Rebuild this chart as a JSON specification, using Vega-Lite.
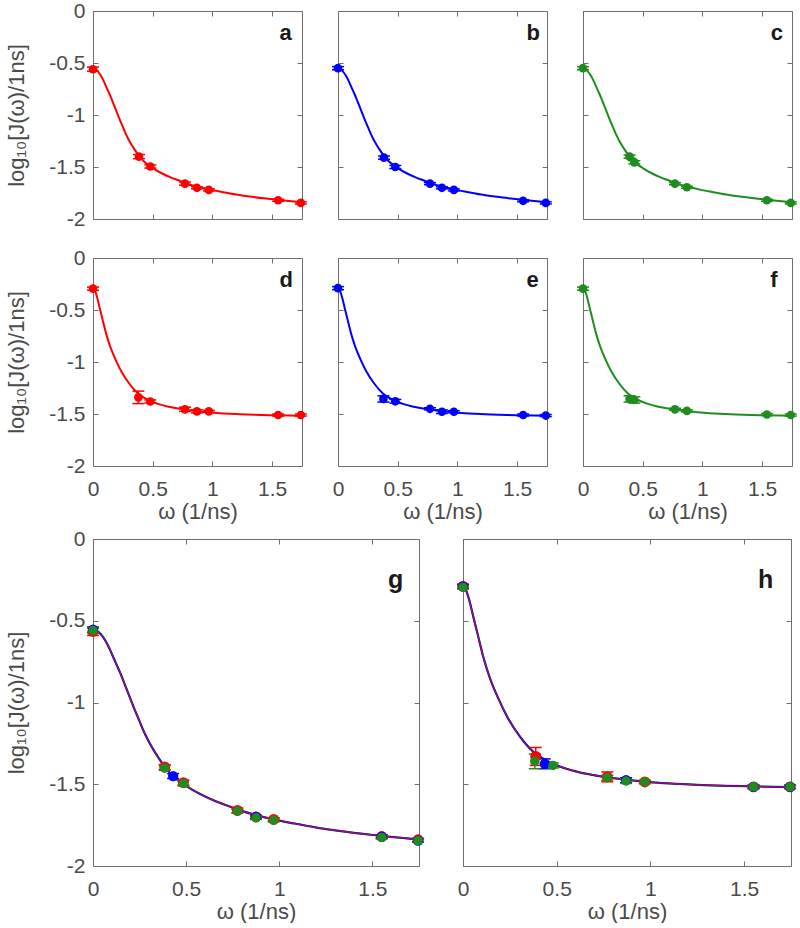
{
  "$schema": "https://vega.github.io/schema/vega-lite/v6.json",
  "padding": {"left": 5, "top": -1, "right": 0, "bottom": 0},
  "spacing": 4,
  "datasets": {
    "fit": [
      {"f":1,"w":0,"v":-0.556},{"f":1,"w":0.02,"v":-0.562},{"f":1,"w":0.04,"v":-0.58},{"f":1,"w":0.06,"v":-0.61},{"f":1,"w":0.08,"v":-0.65},{"f":1,"w":0.1,"v":-0.7},{"f":1,"w":0.127,"v":-0.77},{"f":1,"w":0.15,"v":-0.83},{"f":1,"w":0.172,"v":-0.894},{"f":1,"w":0.2,"v":-0.975},{"f":1,"w":0.217,"v":-1.025},{"f":1,"w":0.25,"v":-1.115},{"f":1,"w":0.27,"v":-1.17},{"f":1,"w":0.3,"v":-1.24},{"f":1,"w":0.325,"v":-1.29},{"f":1,"w":0.35,"v":-1.335},{"f":1,"w":0.4,"v":-1.415},{"f":1,"w":0.45,"v":-1.47},{"f":1,"w":0.5,"v":-1.51},{"f":1,"w":0.575,"v":-1.56},{"f":1,"w":0.65,"v":-1.6},{"f":1,"w":0.72,"v":-1.63},{"f":1,"w":0.79,"v":-1.66},{"f":1,"w":0.88,"v":-1.69},{"f":1,"w":0.97,"v":-1.715},{"f":1,"w":1.08,"v":-1.74},{"f":1,"w":1.2,"v":-1.765},{"f":1,"w":1.33,"v":-1.787},{"f":1,"w":1.47,"v":-1.806},{"f":1,"w":1.6,"v":-1.822},{"f":1,"w":1.75,"v":-1.838},
      {"f":2,"w":0,"v":-0.29},{"f":2,"w":0.015,"v":-0.31},{"f":2,"w":0.03,"v":-0.36},{"f":2,"w":0.055,"v":-0.475},{"f":2,"w":0.082,"v":-0.6},{"f":2,"w":0.108,"v":-0.72},{"f":2,"w":0.144,"v":-0.852},{"f":2,"w":0.188,"v":-0.974},{"f":2,"w":0.24,"v":-1.096},{"f":2,"w":0.303,"v":-1.207},{"f":2,"w":0.374,"v":-1.3},{"f":2,"w":0.43,"v":-1.345},{"f":2,"w":0.48,"v":-1.375},{"f":2,"w":0.55,"v":-1.405},{"f":2,"w":0.622,"v":-1.427},{"f":2,"w":0.7,"v":-1.445},{"f":2,"w":0.78,"v":-1.46},{"f":2,"w":0.9,"v":-1.476},{"f":2,"w":1.01,"v":-1.488},{"f":2,"w":1.15,"v":-1.498},{"f":2,"w":1.28,"v":-1.505},{"f":2,"w":1.41,"v":-1.51},{"f":2,"w":1.544,"v":-1.513},{"f":2,"w":1.75,"v":-1.518}
    ],
    "pts": [
      {"p":"a","s":"red","w":0,"v":-0.56,"lo":-0.58,"hi":-0.54},
      {"p":"a","s":"red","w":0.385,"v":-1.4,"lo":-1.42,"hi":-1.38},
      {"p":"a","s":"red","w":0.48,"v":-1.495,"lo":-1.51,"hi":-1.48},
      {"p":"a","s":"red","w":0.77,"v":-1.66,"lo":-1.675,"hi":-1.645},
      {"p":"a","s":"red","w":0.87,"v":-1.7,"lo":-1.71,"hi":-1.69},
      {"p":"a","s":"red","w":0.97,"v":-1.72,"lo":-1.73,"hi":-1.71},
      {"p":"a","s":"red","w":1.55,"v":-1.82,"lo":-1.83,"hi":-1.81},
      {"p":"a","s":"red","w":1.74,"v":-1.845,"lo":-1.855,"hi":-1.835},
      {"p":"b","s":"blue","w":0,"v":-0.55,"lo":-0.565,"hi":-0.535},
      {"p":"b","s":"blue","w":0.385,"v":-1.41,"lo":-1.425,"hi":-1.395},
      {"p":"b","s":"blue","w":0.48,"v":-1.5,"lo":-1.515,"hi":-1.485},
      {"p":"b","s":"blue","w":0.77,"v":-1.66,"lo":-1.67,"hi":-1.65},
      {"p":"b","s":"blue","w":0.87,"v":-1.7,"lo":-1.71,"hi":-1.69},
      {"p":"b","s":"blue","w":0.97,"v":-1.72,"lo":-1.73,"hi":-1.71},
      {"p":"b","s":"blue","w":1.55,"v":-1.825,"lo":-1.835,"hi":-1.815},
      {"p":"b","s":"blue","w":1.74,"v":-1.845,"lo":-1.855,"hi":-1.835},
      {"p":"c","s":"green","w":0,"v":-0.55,"lo":-0.565,"hi":-0.535},
      {"p":"c","s":"green","w":0.39,"v":-1.4,"lo":-1.415,"hi":-1.385},
      {"p":"c","s":"green","w":0.43,"v":-1.455,"lo":-1.47,"hi":-1.44},
      {"p":"c","s":"green","w":0.77,"v":-1.66,"lo":-1.67,"hi":-1.65},
      {"p":"c","s":"green","w":0.87,"v":-1.695,"lo":-1.705,"hi":-1.685},
      {"p":"c","s":"green","w":1.54,"v":-1.82,"lo":-1.83,"hi":-1.81},
      {"p":"c","s":"green","w":1.74,"v":-1.845,"lo":-1.855,"hi":-1.835},
      {"p":"d","s":"red","w":0,"v":-0.295,"lo":-0.31,"hi":-0.28},
      {"p":"d","s":"red","w":0.38,"v":-1.34,"lo":-1.4,"hi":-1.28},
      {"p":"d","s":"red","w":0.48,"v":-1.38,"lo":-1.395,"hi":-1.365},
      {"p":"d","s":"red","w":0.77,"v":-1.455,"lo":-1.475,"hi":-1.435},
      {"p":"d","s":"red","w":0.87,"v":-1.475,"lo":-1.49,"hi":-1.46},
      {"p":"d","s":"red","w":0.97,"v":-1.475,"lo":-1.485,"hi":-1.465},
      {"p":"d","s":"red","w":1.55,"v":-1.51,"lo":-1.52,"hi":-1.5},
      {"p":"d","s":"red","w":1.74,"v":-1.51,"lo":-1.52,"hi":-1.5},
      {"p":"e","s":"blue","w":0,"v":-0.29,"lo":-0.305,"hi":-0.275},
      {"p":"e","s":"blue","w":0.38,"v":-1.355,"lo":-1.385,"hi":-1.325},
      {"p":"e","s":"blue","w":0.48,"v":-1.378,"lo":-1.395,"hi":-1.36},
      {"p":"e","s":"blue","w":0.77,"v":-1.45,"lo":-1.46,"hi":-1.44},
      {"p":"e","s":"blue","w":0.87,"v":-1.478,"lo":-1.495,"hi":-1.46},
      {"p":"e","s":"blue","w":0.97,"v":-1.478,"lo":-1.488,"hi":-1.468},
      {"p":"e","s":"blue","w":1.55,"v":-1.51,"lo":-1.52,"hi":-1.5},
      {"p":"e","s":"blue","w":1.74,"v":-1.515,"lo":-1.525,"hi":-1.505},
      {"p":"f","s":"green","w":0,"v":-0.295,"lo":-0.31,"hi":-0.28},
      {"p":"f","s":"green","w":0.39,"v":-1.355,"lo":-1.385,"hi":-1.325},
      {"p":"f","s":"green","w":0.43,"v":-1.365,"lo":-1.395,"hi":-1.335},
      {"p":"f","s":"green","w":0.77,"v":-1.455,"lo":-1.465,"hi":-1.445},
      {"p":"f","s":"green","w":0.87,"v":-1.47,"lo":-1.48,"hi":-1.46},
      {"p":"f","s":"green","w":1.54,"v":-1.505,"lo":-1.515,"hi":-1.495},
      {"p":"f","s":"green","w":1.74,"v":-1.51,"lo":-1.52,"hi":-1.5},
      {"p":"g","s":"red","w":0,"v":-0.565,"lo":-0.59,"hi":-0.54},
      {"p":"g","s":"red","w":0.385,"v":-1.395,"lo":-1.41,"hi":-1.38},
      {"p":"g","s":"red","w":0.485,"v":-1.49,"lo":-1.505,"hi":-1.475},
      {"p":"g","s":"red","w":0.775,"v":-1.66,"lo":-1.675,"hi":-1.645},
      {"p":"g","s":"red","w":0.875,"v":-1.7,"lo":-1.71,"hi":-1.69},
      {"p":"g","s":"red","w":0.97,"v":-1.715,"lo":-1.725,"hi":-1.705},
      {"p":"g","s":"red","w":1.55,"v":-1.82,"lo":-1.83,"hi":-1.81},
      {"p":"g","s":"red","w":1.745,"v":-1.84,"lo":-1.85,"hi":-1.83},
      {"p":"g","s":"blue","w":0,"v":-0.555,"lo":-0.57,"hi":-0.54},
      {"p":"g","s":"blue","w":0.43,"v":-1.45,"lo":-1.465,"hi":-1.435},
      {"p":"g","s":"blue","w":0.875,"v":-1.7,"lo":-1.71,"hi":-1.69},
      {"p":"g","s":"blue","w":1.55,"v":-1.82,"lo":-1.83,"hi":-1.81},
      {"p":"g","s":"blue","w":1.745,"v":-1.845,"lo":-1.855,"hi":-1.835},
      {"p":"g","s":"green","w":0,"v":-0.56,"lo":-0.575,"hi":-0.545},
      {"p":"g","s":"green","w":0.385,"v":-1.4,"lo":-1.415,"hi":-1.385},
      {"p":"g","s":"green","w":0.485,"v":-1.495,"lo":-1.51,"hi":-1.48},
      {"p":"g","s":"green","w":0.775,"v":-1.665,"lo":-1.675,"hi":-1.655},
      {"p":"g","s":"green","w":0.875,"v":-1.705,"lo":-1.715,"hi":-1.695},
      {"p":"g","s":"green","w":0.97,"v":-1.72,"lo":-1.73,"hi":-1.71},
      {"p":"g","s":"green","w":1.55,"v":-1.825,"lo":-1.835,"hi":-1.815},
      {"p":"g","s":"green","w":1.745,"v":-1.845,"lo":-1.855,"hi":-1.835},
      {"p":"h","s":"red","w":0,"v":-0.29,"lo":-0.305,"hi":-0.275},
      {"p":"h","s":"red","w":0.388,"v":-1.33,"lo":-1.385,"hi":-1.275},
      {"p":"h","s":"red","w":0.77,"v":-1.455,"lo":-1.485,"hi":-1.425},
      {"p":"h","s":"red","w":0.97,"v":-1.486,"lo":-1.496,"hi":-1.476},
      {"p":"h","s":"red","w":1.55,"v":-1.516,"lo":-1.526,"hi":-1.506},
      {"p":"h","s":"red","w":1.745,"v":-1.516,"lo":-1.526,"hi":-1.506},
      {"p":"h","s":"blue","w":0,"v":-0.29,"lo":-0.3,"hi":-0.28},
      {"p":"h","s":"blue","w":0.436,"v":-1.375,"lo":-1.405,"hi":-1.345},
      {"p":"h","s":"blue","w":0.87,"v":-1.475,"lo":-1.49,"hi":-1.46},
      {"p":"h","s":"blue","w":1.55,"v":-1.516,"lo":-1.526,"hi":-1.506},
      {"p":"h","s":"blue","w":1.745,"v":-1.516,"lo":-1.526,"hi":-1.506},
      {"p":"h","s":"green","w":0,"v":-0.295,"lo":-0.305,"hi":-0.285},
      {"p":"h","s":"green","w":0.383,"v":-1.36,"lo":-1.405,"hi":-1.315},
      {"p":"h","s":"green","w":0.48,"v":-1.385,"lo":-1.4,"hi":-1.37},
      {"p":"h","s":"green","w":0.77,"v":-1.46,"lo":-1.475,"hi":-1.445},
      {"p":"h","s":"green","w":0.87,"v":-1.48,"lo":-1.495,"hi":-1.465},
      {"p":"h","s":"green","w":0.97,"v":-1.486,"lo":-1.496,"hi":-1.476},
      {"p":"h","s":"green","w":1.55,"v":-1.516,"lo":-1.526,"hi":-1.506},
      {"p":"h","s":"green","w":1.745,"v":-1.516,"lo":-1.526,"hi":-1.506}
    ]
  },
  "vconcat": [
    {
      "spacing": 16,
      "vconcat": [
        {
          "spacing": 23,
          "hconcat": [
            {"width":209,"height":208,"resolve":{"axis":{"x":"independent","y":"independent"}},"layer":[
              {"data":{"name":"fit"},"transform":[{"filter":"datum.f==1"}],"mark":{"type":"line","color":"#ff0000","strokeWidth":2,"interpolate":"monotone"},"encoding":{"x":{"field":"w","type":"quantitative","scale":{"domain":[0,1.75],"nice":false,"zero":false},"axis":{"orient":"bottom","values":[0,0.5,1,1.5],"labels":false,"title":null}},"y":{"field":"v","type":"quantitative","scale":{"domain":[-2,0],"nice":false,"zero":false},"axis":{"orient":"left","values":[0,-0.5,-1,-1.5,-2],"title":"log₁₀[J(ω)/1ns]","labelExpr":"'' + datum.value"}}}},
              {"data":{"name":"pts"},"transform":[{"filter":"datum.p=='a'"}],"mark":{"type":"rule","strokeWidth":1.5},"encoding":{"x":{"field":"w","type":"quantitative","axis":{"orient":"top","values":[0,0.5,1,1.5],"labels":false,"title":null}},"y":{"field":"lo","type":"quantitative","axis":{"orient":"right","values":[0,-0.5,-1,-1.5,-2],"labels":false,"title":null}},"y2":{"field":"hi"},"color":{"field":"s","type":"nominal","scale":{"domain":["red","blue","green"],"range":["#ff0000","#0000ff","#1e8c1e"]},"legend":null}}},
              {"data":{"name":"pts"},"transform":[{"filter":"datum.p=='a'"}],"mark":{"type":"tick","orient":"horizontal","size":12,"thickness":1.5,"opacity":1},"encoding":{"x":{"field":"w","type":"quantitative","axis":null},"y":{"field":"lo","type":"quantitative","axis":null},"color":{"field":"s","type":"nominal","legend":null}}},
              {"data":{"name":"pts"},"transform":[{"filter":"datum.p=='a'"}],"mark":{"type":"tick","orient":"horizontal","size":12,"thickness":1.5,"opacity":1},"encoding":{"x":{"field":"w","type":"quantitative","axis":null},"y":{"field":"hi","type":"quantitative","axis":null},"color":{"field":"s","type":"nominal","legend":null}}},
              {"data":{"name":"pts"},"transform":[{"filter":"datum.p=='a'"}],"mark":{"type":"circle","size":75,"opacity":1},"encoding":{"x":{"field":"w","type":"quantitative","axis":null},"y":{"field":"v","type":"quantitative","axis":null},"color":{"field":"s","type":"nominal","legend":null}}},
              {"data":{"values":[{}]},"mark":{"type":"text","text":"a","align":"right","baseline":"alphabetic","fontSize":22,"fontWeight":"bold","color":"#1a1a1a"},"encoding":{"x":{"datum":1.665,"type":"quantitative","axis":null},"y":{"datum":-0.28,"type":"quantitative","axis":null}}}
            ]},
            {"width":209,"height":208,"resolve":{"axis":{"x":"independent","y":"independent"}},"layer":[
              {"data":{"name":"fit"},"transform":[{"filter":"datum.f==1"}],"mark":{"type":"line","color":"#0000ff","strokeWidth":2,"interpolate":"monotone"},"encoding":{"x":{"field":"w","type":"quantitative","scale":{"domain":[0,1.75],"nice":false,"zero":false},"axis":{"orient":"bottom","values":[0,0.5,1,1.5],"labels":false,"title":null}},"y":{"field":"v","type":"quantitative","scale":{"domain":[-2,0],"nice":false,"zero":false},"axis":{"orient":"left","values":[0,-0.5,-1,-1.5,-2],"labels":false,"title":null}}}},
              {"data":{"name":"pts"},"transform":[{"filter":"datum.p=='b'"}],"mark":{"type":"rule","strokeWidth":1.5},"encoding":{"x":{"field":"w","type":"quantitative","axis":{"orient":"top","values":[0,0.5,1,1.5],"labels":false,"title":null}},"y":{"field":"lo","type":"quantitative","axis":{"orient":"right","values":[0,-0.5,-1,-1.5,-2],"labels":false,"title":null}},"y2":{"field":"hi"},"color":{"field":"s","type":"nominal","scale":{"domain":["red","blue","green"],"range":["#ff0000","#0000ff","#1e8c1e"]},"legend":null}}},
              {"data":{"name":"pts"},"transform":[{"filter":"datum.p=='b'"}],"mark":{"type":"tick","orient":"horizontal","size":12,"thickness":1.5,"opacity":1},"encoding":{"x":{"field":"w","type":"quantitative","axis":null},"y":{"field":"lo","type":"quantitative","axis":null},"color":{"field":"s","type":"nominal","legend":null}}},
              {"data":{"name":"pts"},"transform":[{"filter":"datum.p=='b'"}],"mark":{"type":"tick","orient":"horizontal","size":12,"thickness":1.5,"opacity":1},"encoding":{"x":{"field":"w","type":"quantitative","axis":null},"y":{"field":"hi","type":"quantitative","axis":null},"color":{"field":"s","type":"nominal","legend":null}}},
              {"data":{"name":"pts"},"transform":[{"filter":"datum.p=='b'"}],"mark":{"type":"circle","size":75,"opacity":1},"encoding":{"x":{"field":"w","type":"quantitative","axis":null},"y":{"field":"v","type":"quantitative","axis":null},"color":{"field":"s","type":"nominal","legend":null}}},
              {"data":{"values":[{}]},"mark":{"type":"text","text":"b","align":"right","baseline":"alphabetic","fontSize":22,"fontWeight":"bold","color":"#1a1a1a"},"encoding":{"x":{"datum":1.69,"type":"quantitative","axis":null},"y":{"datum":-0.28,"type":"quantitative","axis":null}}}
            ]},
            {"width":209,"height":208,"resolve":{"axis":{"x":"independent","y":"independent"}},"layer":[
              {"data":{"name":"fit"},"transform":[{"filter":"datum.f==1"}],"mark":{"type":"line","color":"#1e8c1e","strokeWidth":2,"interpolate":"monotone"},"encoding":{"x":{"field":"w","type":"quantitative","scale":{"domain":[0,1.75],"nice":false,"zero":false},"axis":{"orient":"bottom","values":[0,0.5,1,1.5],"labels":false,"title":null}},"y":{"field":"v","type":"quantitative","scale":{"domain":[-2,0],"nice":false,"zero":false},"axis":{"orient":"left","values":[0,-0.5,-1,-1.5,-2],"labels":false,"title":null}}}},
              {"data":{"name":"pts"},"transform":[{"filter":"datum.p=='c'"}],"mark":{"type":"rule","strokeWidth":1.5},"encoding":{"x":{"field":"w","type":"quantitative","axis":{"orient":"top","values":[0,0.5,1,1.5],"labels":false,"title":null}},"y":{"field":"lo","type":"quantitative","axis":{"orient":"right","values":[0,-0.5,-1,-1.5,-2],"labels":false,"title":null}},"y2":{"field":"hi"},"color":{"field":"s","type":"nominal","scale":{"domain":["red","blue","green"],"range":["#ff0000","#0000ff","#1e8c1e"]},"legend":null}}},
              {"data":{"name":"pts"},"transform":[{"filter":"datum.p=='c'"}],"mark":{"type":"tick","orient":"horizontal","size":12,"thickness":1.5,"opacity":1},"encoding":{"x":{"field":"w","type":"quantitative","axis":null},"y":{"field":"lo","type":"quantitative","axis":null},"color":{"field":"s","type":"nominal","legend":null}}},
              {"data":{"name":"pts"},"transform":[{"filter":"datum.p=='c'"}],"mark":{"type":"tick","orient":"horizontal","size":12,"thickness":1.5,"opacity":1},"encoding":{"x":{"field":"w","type":"quantitative","axis":null},"y":{"field":"hi","type":"quantitative","axis":null},"color":{"field":"s","type":"nominal","legend":null}}},
              {"data":{"name":"pts"},"transform":[{"filter":"datum.p=='c'"}],"mark":{"type":"circle","size":75,"opacity":1},"encoding":{"x":{"field":"w","type":"quantitative","axis":null},"y":{"field":"v","type":"quantitative","axis":null},"color":{"field":"s","type":"nominal","legend":null}}},
              {"data":{"values":[{}]},"mark":{"type":"text","text":"c","align":"right","baseline":"alphabetic","fontSize":22,"fontWeight":"bold","color":"#1a1a1a"},"encoding":{"x":{"datum":1.675,"type":"quantitative","axis":null},"y":{"datum":-0.28,"type":"quantitative","axis":null}}}
            ]}
          ]
        },
        {
          "spacing": 23,
          "hconcat": [
            {"width":209,"height":208,"resolve":{"axis":{"x":"independent","y":"independent"}},"layer":[
              {"data":{"name":"fit"},"transform":[{"filter":"datum.f==2"}],"mark":{"type":"line","color":"#ff0000","strokeWidth":2,"interpolate":"monotone"},"encoding":{"x":{"field":"w","type":"quantitative","scale":{"domain":[0,1.75],"nice":false,"zero":false},"axis":{"orient":"bottom","values":[0,0.5,1,1.5],"title":"ω (1/ns)","labelExpr":"'' + datum.value"}},"y":{"field":"v","type":"quantitative","scale":{"domain":[-2,0],"nice":false,"zero":false},"axis":{"orient":"left","values":[0,-0.5,-1,-1.5,-2],"title":"log₁₀[J(ω)/1ns]","labelExpr":"'' + datum.value"}}}},
              {"data":{"name":"pts"},"transform":[{"filter":"datum.p=='d'"}],"mark":{"type":"rule","strokeWidth":1.5},"encoding":{"x":{"field":"w","type":"quantitative","axis":{"orient":"top","values":[0,0.5,1,1.5],"labels":false,"title":null}},"y":{"field":"lo","type":"quantitative","axis":{"orient":"right","values":[0,-0.5,-1,-1.5,-2],"labels":false,"title":null}},"y2":{"field":"hi"},"color":{"field":"s","type":"nominal","scale":{"domain":["red","blue","green"],"range":["#ff0000","#0000ff","#1e8c1e"]},"legend":null}}},
              {"data":{"name":"pts"},"transform":[{"filter":"datum.p=='d'"}],"mark":{"type":"tick","orient":"horizontal","size":12,"thickness":1.5,"opacity":1},"encoding":{"x":{"field":"w","type":"quantitative","axis":null},"y":{"field":"lo","type":"quantitative","axis":null},"color":{"field":"s","type":"nominal","legend":null}}},
              {"data":{"name":"pts"},"transform":[{"filter":"datum.p=='d'"}],"mark":{"type":"tick","orient":"horizontal","size":12,"thickness":1.5,"opacity":1},"encoding":{"x":{"field":"w","type":"quantitative","axis":null},"y":{"field":"hi","type":"quantitative","axis":null},"color":{"field":"s","type":"nominal","legend":null}}},
              {"data":{"name":"pts"},"transform":[{"filter":"datum.p=='d'"}],"mark":{"type":"circle","size":75,"opacity":1},"encoding":{"x":{"field":"w","type":"quantitative","axis":null},"y":{"field":"v","type":"quantitative","axis":null},"color":{"field":"s","type":"nominal","legend":null}}},
              {"data":{"values":[{}]},"mark":{"type":"text","text":"d","align":"right","baseline":"alphabetic","fontSize":22,"fontWeight":"bold","color":"#1a1a1a"},"encoding":{"x":{"datum":1.675,"type":"quantitative","axis":null},"y":{"datum":-0.28,"type":"quantitative","axis":null}}}
            ]},
            {"width":209,"height":208,"resolve":{"axis":{"x":"independent","y":"independent"}},"layer":[
              {"data":{"name":"fit"},"transform":[{"filter":"datum.f==2"}],"mark":{"type":"line","color":"#0000ff","strokeWidth":2,"interpolate":"monotone"},"encoding":{"x":{"field":"w","type":"quantitative","scale":{"domain":[0,1.75],"nice":false,"zero":false},"axis":{"orient":"bottom","values":[0,0.5,1,1.5],"title":"ω (1/ns)","labelExpr":"'' + datum.value"}},"y":{"field":"v","type":"quantitative","scale":{"domain":[-2,0],"nice":false,"zero":false},"axis":{"orient":"left","values":[0,-0.5,-1,-1.5,-2],"labels":false,"title":null}}}},
              {"data":{"name":"pts"},"transform":[{"filter":"datum.p=='e'"}],"mark":{"type":"rule","strokeWidth":1.5},"encoding":{"x":{"field":"w","type":"quantitative","axis":{"orient":"top","values":[0,0.5,1,1.5],"labels":false,"title":null}},"y":{"field":"lo","type":"quantitative","axis":{"orient":"right","values":[0,-0.5,-1,-1.5,-2],"labels":false,"title":null}},"y2":{"field":"hi"},"color":{"field":"s","type":"nominal","scale":{"domain":["red","blue","green"],"range":["#ff0000","#0000ff","#1e8c1e"]},"legend":null}}},
              {"data":{"name":"pts"},"transform":[{"filter":"datum.p=='e'"}],"mark":{"type":"tick","orient":"horizontal","size":12,"thickness":1.5,"opacity":1},"encoding":{"x":{"field":"w","type":"quantitative","axis":null},"y":{"field":"lo","type":"quantitative","axis":null},"color":{"field":"s","type":"nominal","legend":null}}},
              {"data":{"name":"pts"},"transform":[{"filter":"datum.p=='e'"}],"mark":{"type":"tick","orient":"horizontal","size":12,"thickness":1.5,"opacity":1},"encoding":{"x":{"field":"w","type":"quantitative","axis":null},"y":{"field":"hi","type":"quantitative","axis":null},"color":{"field":"s","type":"nominal","legend":null}}},
              {"data":{"name":"pts"},"transform":[{"filter":"datum.p=='e'"}],"mark":{"type":"circle","size":75,"opacity":1},"encoding":{"x":{"field":"w","type":"quantitative","axis":null},"y":{"field":"v","type":"quantitative","axis":null},"color":{"field":"s","type":"nominal","legend":null}}},
              {"data":{"values":[{}]},"mark":{"type":"text","text":"e","align":"right","baseline":"alphabetic","fontSize":22,"fontWeight":"bold","color":"#1a1a1a"},"encoding":{"x":{"datum":1.68,"type":"quantitative","axis":null},"y":{"datum":-0.28,"type":"quantitative","axis":null}}}
            ]},
            {"width":209,"height":208,"resolve":{"axis":{"x":"independent","y":"independent"}},"layer":[
              {"data":{"name":"fit"},"transform":[{"filter":"datum.f==2"}],"mark":{"type":"line","color":"#1e8c1e","strokeWidth":2,"interpolate":"monotone"},"encoding":{"x":{"field":"w","type":"quantitative","scale":{"domain":[0,1.75],"nice":false,"zero":false},"axis":{"orient":"bottom","values":[0,0.5,1,1.5],"title":"ω (1/ns)","labelExpr":"'' + datum.value"}},"y":{"field":"v","type":"quantitative","scale":{"domain":[-2,0],"nice":false,"zero":false},"axis":{"orient":"left","values":[0,-0.5,-1,-1.5,-2],"labels":false,"title":null}}}},
              {"data":{"name":"pts"},"transform":[{"filter":"datum.p=='f'"}],"mark":{"type":"rule","strokeWidth":1.5},"encoding":{"x":{"field":"w","type":"quantitative","axis":{"orient":"top","values":[0,0.5,1,1.5],"labels":false,"title":null}},"y":{"field":"lo","type":"quantitative","axis":{"orient":"right","values":[0,-0.5,-1,-1.5,-2],"labels":false,"title":null}},"y2":{"field":"hi"},"color":{"field":"s","type":"nominal","scale":{"domain":["red","blue","green"],"range":["#ff0000","#0000ff","#1e8c1e"]},"legend":null}}},
              {"data":{"name":"pts"},"transform":[{"filter":"datum.p=='f'"}],"mark":{"type":"tick","orient":"horizontal","size":12,"thickness":1.5,"opacity":1},"encoding":{"x":{"field":"w","type":"quantitative","axis":null},"y":{"field":"lo","type":"quantitative","axis":null},"color":{"field":"s","type":"nominal","legend":null}}},
              {"data":{"name":"pts"},"transform":[{"filter":"datum.p=='f'"}],"mark":{"type":"tick","orient":"horizontal","size":12,"thickness":1.5,"opacity":1},"encoding":{"x":{"field":"w","type":"quantitative","axis":null},"y":{"field":"hi","type":"quantitative","axis":null},"color":{"field":"s","type":"nominal","legend":null}}},
              {"data":{"name":"pts"},"transform":[{"filter":"datum.p=='f'"}],"mark":{"type":"circle","size":75,"opacity":1},"encoding":{"x":{"field":"w","type":"quantitative","axis":null},"y":{"field":"v","type":"quantitative","axis":null},"color":{"field":"s","type":"nominal","legend":null}}},
              {"data":{"values":[{}]},"mark":{"type":"text","text":"f","align":"right","baseline":"alphabetic","fontSize":22,"fontWeight":"bold","color":"#1a1a1a"},"encoding":{"x":{"datum":1.63,"type":"quantitative","axis":null},"y":{"datum":-0.28,"type":"quantitative","axis":null}}}
            ]}
          ]
        }
      ]
    },
    {
      "spacing": 31,
      "hconcat": [
        {"width":326,"height":327,"resolve":{"axis":{"x":"independent","y":"independent"}},"layer":[
          {"data":{"name":"fit"},"transform":[{"filter":"datum.f==1"}],"mark":{"type":"line","color":"#1e8c1e","strokeWidth":2.2,"interpolate":"monotone"},"encoding":{"x":{"field":"w","type":"quantitative","scale":{"domain":[0,1.75],"nice":false,"zero":false},"axis":{"orient":"bottom","values":[0,0.5,1,1.5],"title":"ω (1/ns)","labelExpr":"'' + datum.value"}},"y":{"field":"v","type":"quantitative","scale":{"domain":[-2,0],"nice":false,"zero":false},"axis":{"orient":"left","values":[0,-0.5,-1,-1.5,-2],"title":"log₁₀[J(ω)/1ns]","labelExpr":"'' + datum.value"}}}},
          {"data":{"name":"pts"},"transform":[{"filter":"datum.p=='g'"}],"mark":{"type":"rule","strokeWidth":1.5},"encoding":{"x":{"field":"w","type":"quantitative","axis":{"orient":"top","values":[0,0.5,1,1.5],"labels":false,"title":null}},"y":{"field":"lo","type":"quantitative","axis":{"orient":"right","values":[0,-0.5,-1,-1.5,-2],"labels":false,"title":null}},"y2":{"field":"hi"},"color":{"field":"s","type":"nominal","scale":{"domain":["red","blue","green"],"range":["#ff0000","#0000ff","#1e8c1e"]},"legend":null}}},
          {"data":{"name":"fit"},"transform":[{"filter":"datum.f==1"}],"mark":{"type":"line","color":"#0000ff","strokeWidth":1.8,"interpolate":"monotone"},"encoding":{"x":{"field":"w","type":"quantitative","axis":null},"y":{"field":"v","type":"quantitative","axis":null}}},
          {"data":{"name":"fit"},"transform":[{"filter":"datum.f==1"}],"mark":{"type":"line","color":"#e0004a","strokeWidth":1,"interpolate":"monotone"},"encoding":{"x":{"field":"w","type":"quantitative","axis":null},"y":{"field":"v","type":"quantitative","axis":null}}},
          {"data":{"name":"pts"},"transform":[{"filter":"datum.p=='g'"}],"mark":{"type":"tick","orient":"horizontal","size":12,"thickness":1.5,"opacity":1},"encoding":{"x":{"field":"w","type":"quantitative","axis":null},"y":{"field":"lo","type":"quantitative","axis":null},"color":{"field":"s","type":"nominal","legend":null}}},
          {"data":{"name":"pts"},"transform":[{"filter":"datum.p=='g'"}],"mark":{"type":"tick","orient":"horizontal","size":12,"thickness":1.5,"opacity":1},"encoding":{"x":{"field":"w","type":"quantitative","axis":null},"y":{"field":"hi","type":"quantitative","axis":null},"color":{"field":"s","type":"nominal","legend":null}}},
          {"data":{"name":"pts"},"transform":[{"filter":"datum.p=='g'"}],"mark":{"type":"circle","opacity":1},"encoding":{"x":{"field":"w","type":"quantitative","axis":null},"y":{"field":"v","type":"quantitative","axis":null},"color":{"field":"s","type":"nominal","legend":null},"size":{"field":"s","type":"nominal","scale":{"domain":["red","blue","green"],"range":[120,90,70]},"legend":null}}},
          {"data":{"values":[{}]},"mark":{"type":"text","text":"g","align":"right","baseline":"alphabetic","fontSize":25,"fontWeight":"bold","color":"#1a1a1a"},"encoding":{"x":{"datum":1.665,"type":"quantitative","axis":null},"y":{"datum":-0.3,"type":"quantitative","axis":null}}}
        ]},
        {"width":328,"height":327,"resolve":{"axis":{"x":"independent","y":"independent"}},"layer":[
          {"data":{"name":"fit"},"transform":[{"filter":"datum.f==2"}],"mark":{"type":"line","color":"#1e8c1e","strokeWidth":2.2,"interpolate":"monotone"},"encoding":{"x":{"field":"w","type":"quantitative","scale":{"domain":[0,1.75],"nice":false,"zero":false},"axis":{"orient":"bottom","values":[0,0.5,1,1.5],"title":"ω (1/ns)","labelExpr":"'' + datum.value"}},"y":{"field":"v","type":"quantitative","scale":{"domain":[-2,0],"nice":false,"zero":false},"axis":{"orient":"left","values":[0,-0.5,-1,-1.5,-2],"labels":false,"title":null}}}},
          {"data":{"name":"pts"},"transform":[{"filter":"datum.p=='h'"}],"mark":{"type":"rule","strokeWidth":1.5},"encoding":{"x":{"field":"w","type":"quantitative","axis":{"orient":"top","values":[0,0.5,1,1.5],"labels":false,"title":null}},"y":{"field":"lo","type":"quantitative","axis":{"orient":"right","values":[0,-0.5,-1,-1.5,-2],"labels":false,"title":null}},"y2":{"field":"hi"},"color":{"field":"s","type":"nominal","scale":{"domain":["red","blue","green"],"range":["#ff0000","#0000ff","#1e8c1e"]},"legend":null}}},
          {"data":{"name":"fit"},"transform":[{"filter":"datum.f==2"}],"mark":{"type":"line","color":"#0000ff","strokeWidth":1.8,"interpolate":"monotone"},"encoding":{"x":{"field":"w","type":"quantitative","axis":null},"y":{"field":"v","type":"quantitative","axis":null}}},
          {"data":{"name":"fit"},"transform":[{"filter":"datum.f==2"}],"mark":{"type":"line","color":"#e0004a","strokeWidth":1,"interpolate":"monotone"},"encoding":{"x":{"field":"w","type":"quantitative","axis":null},"y":{"field":"v","type":"quantitative","axis":null}}},
          {"data":{"name":"pts"},"transform":[{"filter":"datum.p=='h'"}],"mark":{"type":"tick","orient":"horizontal","size":12,"thickness":1.5,"opacity":1},"encoding":{"x":{"field":"w","type":"quantitative","axis":null},"y":{"field":"lo","type":"quantitative","axis":null},"color":{"field":"s","type":"nominal","legend":null}}},
          {"data":{"name":"pts"},"transform":[{"filter":"datum.p=='h'"}],"mark":{"type":"tick","orient":"horizontal","size":12,"thickness":1.5,"opacity":1},"encoding":{"x":{"field":"w","type":"quantitative","axis":null},"y":{"field":"hi","type":"quantitative","axis":null},"color":{"field":"s","type":"nominal","legend":null}}},
          {"data":{"name":"pts"},"transform":[{"filter":"datum.p=='h'"}],"mark":{"type":"circle","opacity":1},"encoding":{"x":{"field":"w","type":"quantitative","axis":null},"y":{"field":"v","type":"quantitative","axis":null},"color":{"field":"s","type":"nominal","legend":null},"size":{"field":"s","type":"nominal","scale":{"domain":["red","blue","green"],"range":[120,90,70]},"legend":null}}},
          {"data":{"values":[{}]},"mark":{"type":"text","text":"h","align":"right","baseline":"alphabetic","fontSize":25,"fontWeight":"bold","color":"#1a1a1a"},"encoding":{"x":{"datum":1.655,"type":"quantitative","axis":null},"y":{"datum":-0.3,"type":"quantitative","axis":null}}}
        ]}
      ]
    }
  ],
  "config": {
    "font": "Liberation Sans",
    "view": {"stroke": "#6e6e6e", "strokeWidth": 1},
    "axis": {"grid": false, "domain": false, "tickSize": -5, "tickColor": "#6e6e6e", "tickWidth": 1, "labelFontSize": 21, "labelColor": "#4a4a4a", "labelFlush": false, "labelOverlap": false, "labelBound": false, "titleFontSize": 22, "titleFontWeight": "normal", "titleColor": "#4a4a4a"},
    "axisX": {"labelPadding": 17, "titlePadding": 2},
    "axisY": {"labelPadding": 13, "titlePadding": 20}
  }
}
